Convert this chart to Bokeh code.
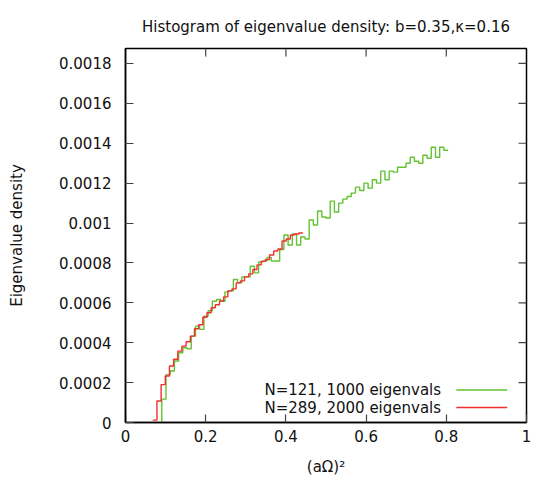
import numpy as np
from bokeh.plotting import figure
from bokeh.models import FixedTicker, Label, Range1d
from bokeh.embed import file_html
from bokeh.resources import INLINE

# ---- data ----
green_label = "N=121, 1000 eigenvals"
red_label = "N=289, 2000 eigenvals"
green_start = 0.0905
green_bin_width = 0.0105
red_start = 0.068
red_bin_width = 0.0104

green_density = [
    0.000117, 0.00024, 0.000258, 0.000308, 0.00035, 0.000375, 0.00037, 0.000433,
    0.000483, 0.000467, 0.000533, 0.00056, 0.000608, 0.000617, 0.000608, 0.000655,
    0.00066, 0.000717, 0.0007, 0.00073, 0.00073, 0.000783, 0.00075, 0.000805,
    0.00081, 0.000828, 0.00081, 0.00081, 0.000867, 0.00094, 0.00089, 0.000945,
    0.00089, 0.00093, 0.00092, 0.001015, 0.00099, 0.00106, 0.00103, 0.001025,
    0.00111, 0.001055, 0.0011, 0.00112, 0.001133, 0.00115, 0.00118, 0.001163,
    0.0012, 0.001175, 0.001217, 0.0012, 0.00126, 0.001217, 0.00126, 0.001255,
    0.00128, 0.00128, 0.0013, 0.00133, 0.00131, 0.0013, 0.00134, 0.001325,
    0.00138, 0.00133, 0.00138, 0.001365,
]

red_density = [
    0.0000117, 0.000108, 0.00019, 0.000233, 0.000283, 0.000317, 0.000358, 0.000383,
    0.000405, 0.000433, 0.00047, 0.00049, 0.000528, 0.00055, 0.000575, 0.00059,
    0.00061, 0.00063, 0.00066, 0.00067, 0.0007, 0.00071, 0.00073, 0.000745,
    0.000767, 0.00079, 0.000808, 0.000817, 0.00084, 0.00086, 0.00087, 0.00091,
    0.00092, 0.00094, 0.000945, 0.00095,
]

x_ticks = [0, 0.2, 0.4, 0.6, 0.8, 1.0]
x_tick_labels = ["0", "0.2", "0.4", "0.6", "0.8", "1"]
y_ticks = [0, 0.0002, 0.0004, 0.0006, 0.0008, 0.001, 0.0012, 0.0014, 0.0016, 0.0018]
y_tick_labels = ["0", "0.0002", "0.0004", "0.0006", "0.0008", "0.001",
                 "0.0012", "0.0014", "0.0016", "0.0018"]

# ---- styling ----
FONT = "DejaVu Sans"
FS = "15px"
GREEN = "#62c232"
RED = "#f03030"
TICK_COLOR = "#444444"
TXT = "#111111"
X_MAX = 1.0
Y_MAX = 0.001875
FRAME_W = 401
FRAME_H = 375
TICK_PX = 8

p = figure(width=532, height=478, output_backend="svg", toolbar_location=None,
           x_range=Range1d(0, X_MAX), y_range=Range1d(0, Y_MAX),
           min_border_left=125, min_border_right=6, min_border_top=48,
           min_border_bottom=55)

p.title.text = "Histogram of eigenvalue density: b=0.35,\u03ba=0.16"
p.title.align = "center"
p.title.text_font = FONT
p.title.text_font_size = FS
p.title.text_font_style = "normal"
p.title.text_color = TXT
p.title.standoff = 25

p.grid.visible = False
p.outline_line_color = "black"
p.outline_line_width = 1.5
p.background_fill_color = "white"
p.border_fill_color = "white"

# histogram steps
gx = [green_start] + [green_start + i * green_bin_width for i in range(len(green_density) + 1)]
gy = [0] + list(green_density) + [green_density[-1]]
rx = [red_start + i * red_bin_width for i in range(len(red_density) + 1)]
ry = list(red_density) + [red_density[-1]]

p.step(gx, gy, mode="after", line_color=GREEN, line_width=1.4)
p.step(rx, ry, mode="after", line_color=RED, line_width=1.4)

# axes
for ax in (p.xaxis[0], p.yaxis[0]):
    ax.major_tick_in = TICK_PX
    ax.major_tick_out = 0
    ax.minor_tick_line_color = None
    ax.major_tick_line_color = TICK_COLOR
    ax.major_tick_line_width = 1.2
    ax.axis_line_color = "black"
    ax.axis_line_width = 1.5
    ax.major_label_text_font = FONT
    ax.major_label_text_font_size = FS
    ax.major_label_text_color = TXT
    ax.axis_label_text_font = FONT
    ax.axis_label_text_font_size = FS
    ax.axis_label_text_font_style = "normal"
    ax.axis_label_text_color = TXT

p.xaxis[0].ticker = FixedTicker(ticks=x_ticks)
p.xaxis[0].major_label_overrides = dict(zip(x_ticks, x_tick_labels))
p.xaxis[0].major_label_standoff = 7
p.xaxis[0].axis_label = "(a\u03a9)\u00b2"
p.xaxis[0].axis_label_standoff = 13

p.yaxis[0].ticker = FixedTicker(ticks=y_ticks)
p.yaxis[0].major_label_overrides = dict(zip(y_ticks, y_tick_labels))
p.yaxis[0].major_label_standoff = 14
p.yaxis[0].axis_label = "Eigenvalue density"
p.yaxis[0].axis_label_standoff = 30

# mirrored (inward) ticks on top and right edges
dx = TICK_PX / FRAME_W * X_MAX
dy = TICK_PX / FRAME_H * Y_MAX
inner_x = [t for t in x_ticks if 0 < t < X_MAX]
inner_y = [t for t in y_ticks if 0 < t < Y_MAX]
p.segment(x0=inner_x, y0=[Y_MAX] * len(inner_x), x1=inner_x, y1=[Y_MAX - dy] * len(inner_x),
          line_color=TICK_COLOR, line_width=1.2)
p.segment(x0=[X_MAX] * len(inner_y), y0=inner_y, x1=[X_MAX - dx] * len(inner_y), y1=inner_y,
          line_color=TICK_COLOR, line_width=1.2)

# legend (gnuplot style: text then line sample)
LEG_TEXT_X = 0.787
LEG_LINE_X0 = 0.825
LEG_LINE_X1 = 0.952
LEG_Y = [0.000163, 0.000075]
for lab, col, yy in ((green_label, GREEN, LEG_Y[0]), (red_label, RED, LEG_Y[1])):
    p.add_layout(Label(x=LEG_TEXT_X, y=yy, text=lab, text_align="right",
                       text_baseline="middle", text_font=FONT, text_font_size=FS,
                       text_color=TXT))
    p.segment(x0=[LEG_LINE_X0], y0=[yy], x1=[LEG_LINE_X1], y1=[yy],
              line_color=col, line_width=1.4)

open("out.html", "w").write(file_html(p, INLINE))
